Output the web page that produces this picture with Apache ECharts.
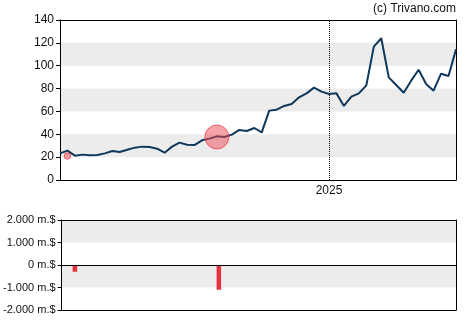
<!DOCTYPE html>
<html>
<head>
<meta charset="utf-8">
<script src="https://cdn.jsdelivr.net/npm/echarts@6/dist/echarts.min.js"></script>
<style>html,body{margin:0;padding:0;background:#fff}#c{width:470px;height:325px}</style>
</head>
<body>
<div id="c"></div>
<script>
// Price series (biweekly)
var dates = [
 '2023-08-16','2023-08-30','2023-09-13','2023-09-27','2023-10-11','2023-10-25','2023-11-08','2023-11-22',
 '2023-12-06','2023-12-20','2024-01-03','2024-01-17','2024-01-31','2024-02-14','2024-02-28','2024-03-13',
 '2024-03-27','2024-04-10','2024-04-24','2024-05-08','2024-05-22','2024-06-05','2024-06-19','2024-07-03',
 '2024-07-17','2024-07-31','2024-08-14','2024-08-28','2024-09-11','2024-09-25','2024-10-09','2024-10-23',
 '2024-11-06','2024-11-20','2024-12-04','2024-12-18','2025-01-01','2025-01-15','2025-01-29','2025-02-12',
 '2025-02-26','2025-03-12','2025-03-26','2025-04-09','2025-04-23','2025-05-07','2025-05-21','2025-06-04',
 '2025-06-18','2025-07-02','2025-07-16','2025-07-30','2025-08-13','2025-08-27'
];
var prices = [
 23.3,25.7,21.3,22.2,21.6,21.9,23.3,25.4,
 24.5,26.5,28.3,29.2,28.9,27.4,23.9,29.2,
 32.7,30.9,30.6,34.7,36.2,38.2,37.6,39.7,
 43.8,42.9,45.5,41.7,60.7,61.5,64.8,66.5,
 72.3,75.8,80.8,77.3,75.3,75.8,64.8,72.9,
 75.8,82.8,116.7,124,89.8,83.1,76.4,86.9,
 96.5,84,78.2,93,91,114.3
];
// Insider trades
var tradeDates = ['2023-08-30','2024-06-05'];
var tradePrices = [21, 37.6];
var tradeAmounts = [-300, -1100];
var barDates = ['2023-09-06','2024-06-06'];
// Axis ticks
var priceTicks = {min: 0, max: 140, interval: 20};
var amountTicks = {min: -2000, max: 2000, interval: 1000};
var yearMark = '2025-01-01';
var yearLabel = '2025';

var FONT = 'Liberation Sans, Arial, sans-serif';
var TXT = '#111';
var BAND = ['rgba(0,0,0,0)', '#ececec'];
var xMin = dates[0], xMax = dates[dates.length - 1];

function fmtAmount(v) {
  var s = Math.abs(v).toString().replace(/\B(?=(\d{3})+(?!\d))/g, '.');
  return (v < 0 ? '-' : '') + s + ' m.$';
}
function borderX(grid, pos) {
  return {type: 'time', gridIndex: grid, position: pos, min: xMin, max: xMax,
    axisLine: {show: true, onZero: false, lineStyle: {color: '#000', width: 1}},
    axisTick: {show: false}, axisLabel: {show: false}, splitLine: {show: false}};
}
function borderY(grid, t) {
  return {type: 'value', gridIndex: grid, position: 'right', min: t.min, max: t.max, interval: t.interval,
    axisLine: {show: true, onZero: false, lineStyle: {color: '#000', width: 1}},
    axisTick: {show: false}, axisLabel: {show: false}, splitLine: {show: false}};
}

var chart = echarts.init(document.getElementById('c'), null, {renderer: 'canvas'});
chart.setOption({
  animation: false,
  textStyle: {fontFamily: FONT},
  title: {text: '(c) Trivano.com', right: 14, top: 3, padding: 0,
    textStyle: {fontSize: 12, fontWeight: 'normal', color: TXT, fontFamily: FONT}},
  grid: [
    {left: 60, right: 14, top: 20, height: 160},
    {left: 60, right: 14, top: 220, height: 90}
  ],
  xAxis: [
    borderX(0, 'bottom'),
    borderX(0, 'top'),
    borderX(1, 'bottom'),
    borderX(1, 'top')
  ],
  yAxis: [
    {type: 'value', gridIndex: 0, min: priceTicks.min, max: priceTicks.max, interval: priceTicks.interval,
      axisLine: {show: true, onZero: false, lineStyle: {color: '#000', width: 1}},
      axisTick: {show: true, length: 4, lineStyle: {color: '#000'}},
      axisLabel: {color: TXT, fontSize: 12, margin: 6, fontFamily: FONT},
      splitLine: {show: false},
      splitArea: {show: true, areaStyle: {color: BAND}}},
    borderY(0, priceTicks),
    {type: 'value', gridIndex: 1, min: amountTicks.min, max: amountTicks.max, interval: amountTicks.interval,
      axisLine: {show: true, onZero: false, lineStyle: {color: '#000', width: 1}},
      axisTick: {show: true, length: 4, lineStyle: {color: '#000'}},
      axisLabel: {color: TXT, fontSize: 11, margin: 6, fontFamily: FONT, formatter: fmtAmount},
      splitLine: {show: false},
      splitArea: {show: true, areaStyle: {color: BAND}}},
    borderY(1, amountTicks)
  ],
  series: [
    {type: 'line', xAxisIndex: 0, yAxisIndex: 0, showSymbol: false, symbol: 'none',
      data: dates.map(function (d, i) { return [d, prices[i]]; }),
      lineStyle: {color: '#10385a', width: 2}, z: 3,
      markLine: {silent: true, symbol: 'none', animation: false,
        lineStyle: {type: 'dotted', color: '#000', width: 1},
        label: {show: true, position: 'start', formatter: yearLabel, color: TXT, fontSize: 12, distance: 5, fontFamily: FONT},
        emphasis: {disabled: true},
        data: [{xAxis: yearMark}]}},
    {type: 'scatter', xAxisIndex: 0, yAxisIndex: 0, z: 4,
      data: tradeDates.map(function (d, i) { return [d, tradePrices[i], tradeAmounts[i]]; }),
      symbolSize: function (v) { return Math.max(6, Math.abs(v[2]) * 0.0218); },
      itemStyle: {color: 'rgba(238,70,85,0.62)', borderColor: '#e8404f', borderWidth: 1}},
    {type: 'bar', xAxisIndex: 2, yAxisIndex: 2, barWidth: 4.5,
      data: barDates.map(function (d, i) { return [d, tradeAmounts[i]]; }),
      itemStyle: {color: '#e8303f'},
      markLine: {silent: true, symbol: 'none', animation: false,
        lineStyle: {type: 'solid', color: '#000', width: 1},
        label: {show: false}, emphasis: {disabled: true},
        data: [{yAxis: 0}]}}
  ]
});
</script>
</body>
</html>
